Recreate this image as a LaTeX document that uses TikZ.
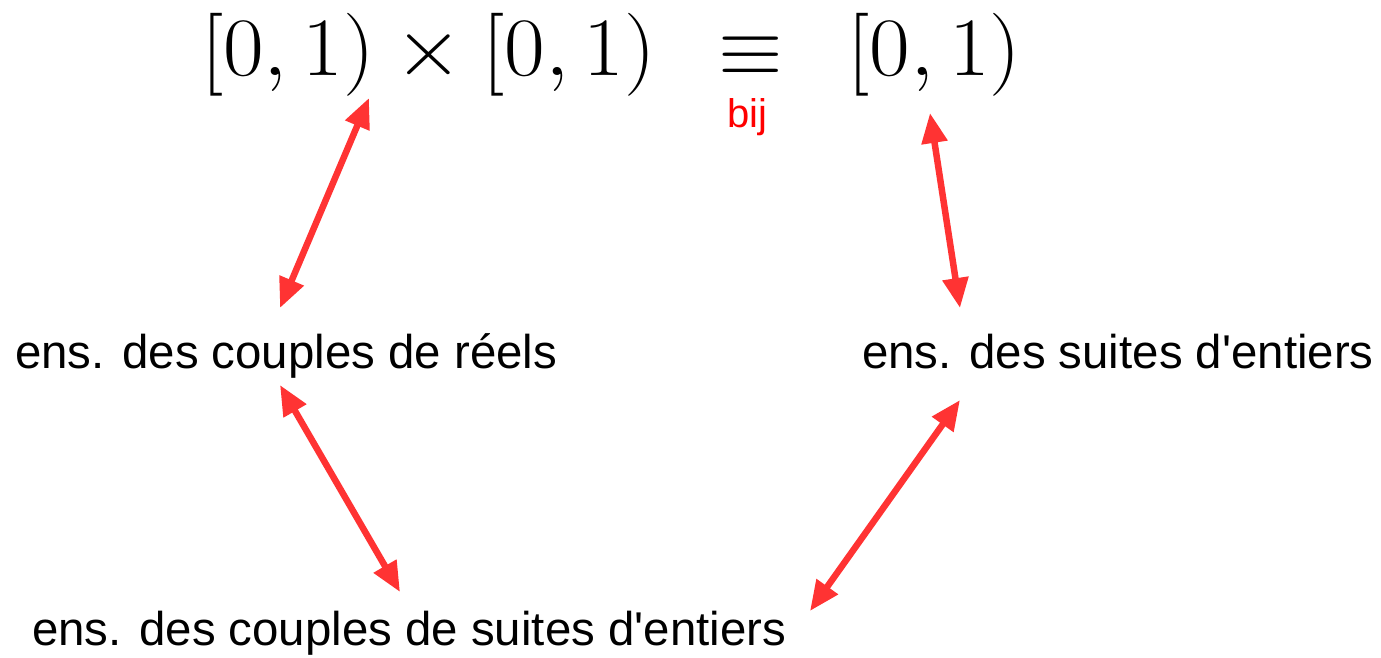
\RequirePackage{fix-cm}
\documentclass[tikz,border=0pt]{standalone}
\usepackage[no-math]{fontspec}
\newfontfamily\sansf{Liberation Sans}
\usetikzlibrary{arrows.meta}
\definecolor{arr}{RGB}{255,51,51}
\definecolor{bijred}{RGB}{255,0,0}
\begin{document}
\begin{tikzpicture}[x=1pt,y=-1pt,
  lab/.style={font=\sansf\fontsize{47.4}{56}\selectfont, inner sep=0pt, anchor=base west},
  mth/.style={font=\fontsize{83}{96}\selectfont, inner sep=0pt, anchor=base west},
  link/.style={draw=arr, line width=6.5pt,
    {Triangle[length=30pt,width=25pt]}-{Triangle[length=30pt,width=25pt]}}]
\useasboundingbox (0,0) rectangle (1381,657);
% formula
\node[mth] (lhs) at (201,75) {\scalebox{1.065}[1]{$[0,1)\times[0,1)$}};
\node[mth, anchor=base] (eq) at (750.5,75) {$\equiv$};
\node[mth] (rhs) at (847.5,75) {\scalebox{1.065}[1]{$[0,1)$}};
\node[font=\sansf\fontsize{40}{46}\selectfont, text=bijred, inner sep=0pt, anchor=base] (bij) at (747,127) {bij};
% labels
\node[lab] (reels) at (15,368) {ens. des couples de réels};
\node[lab] (suites) at (862,368) {ens. des suites d'entiers};
\node[lab] (couples) at (32,645) {ens. des couples de suites d'entiers};
% arrow end points
\coordinate (a1t) at (369,98);
\coordinate (a1b) at (280,308);
\coordinate (a2t) at (930,113);
\coordinate (a2b) at (960,308);
\coordinate (a3t) at (280,385);
\coordinate (a3b) at (400,592);
\coordinate (a4t) at (960,400);
\coordinate (a4b) at (810,611);
\draw[link] (a1b) -- (a1t);
\draw[link] (a2t) -- (a2b);
\draw[link] (a3t) -- (a3b);
\draw[link] (a4t) -- (a4b);
\end{tikzpicture}
\end{document}
